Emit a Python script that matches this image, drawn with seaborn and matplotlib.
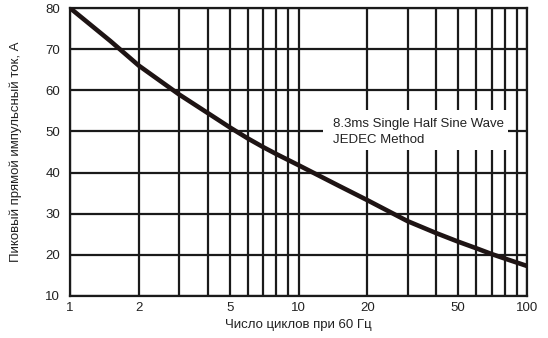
import matplotlib
matplotlib.use("Agg")
import matplotlib.pyplot as plt
import seaborn as sns
import pandas as pd
from matplotlib.patches import Rectangle
from matplotlib.ticker import FixedLocator, NullFormatter, FixedFormatter

cycles = [1, 1.5, 2, 3, 4, 5, 6, 7, 8, 10, 15, 20, 30, 40, 50, 60, 70, 80, 100]
current = [80, 72, 66, 59, 54.5, 51, 48.3, 46.2, 44.5, 41.8, 36.8, 33.3,
           28.2, 25.3, 23.2, 21.6, 20.2, 19.1, 17.3]
x_ticks = [1, 2, 5, 10, 20, 50, 100]
x_tick_labels = ["1", "2", "5", "10", "20", "50", "100"]
x_minor = [3, 4, 6, 7, 8, 9, 30, 40, 60, 70, 80, 90]
y_ticks = [10, 20, 30, 40, 50, 60, 70, 80]
annotation = "8.3ms Single Half Sine Wave\nJEDEC Method"
xlabel = "Число циклов при 60 Гц"
ylabel = "Пиковый прямой импульсный ток, А"

sns.set_style("white")
plt.rcParams['font.family'] = ['Liberation Sans', 'DejaVu Sans']

df = pd.DataFrame({"cycles": cycles, "current": current})

L, R, T, B = 70, 527, 8, 296
fig = plt.figure(figsize=(5.48, 3.38), dpi=100)
ax = fig.add_axes([L/548, 1 - B/338, (R-L)/548, (B-T)/338])

ax.set_xscale("log")
ax.set_xlim(1, 100)
ax.set_ylim(10, 80)

ax.xaxis.set_major_locator(FixedLocator(x_ticks))
ax.xaxis.set_major_formatter(FixedFormatter(x_tick_labels))
ax.xaxis.set_minor_locator(FixedLocator(x_minor))
ax.xaxis.set_minor_formatter(NullFormatter())
ax.yaxis.set_major_locator(FixedLocator(y_ticks))

ax.grid(True, which="both", axis="x", color="#1a1a1a", linewidth=1.6)
ax.grid(True, which="major", axis="y", color="#1a1a1a", linewidth=1.6)
ax.set_axisbelow(True)

sns.lineplot(data=df, x="cycles", y="current", ax=ax, color="#1e1414",
             linewidth=3.3, zorder=3)

for s in ax.spines.values():
    s.set_color("#1a1a1a")
    s.set_linewidth(1.6)

ax.tick_params(axis="both", which="both", length=0, labelsize=9.5, colors="#222222")
ax.tick_params(axis="x", pad=4)
ax.tick_params(axis="y", pad=7)

ax.set_xlabel(xlabel, fontsize=9.5, color="#222222", labelpad=4)
ax.set_ylabel(ylabel, fontsize=9.5, color="#222222", labelpad=17)

# white label box covering the grid
bx0, bx1, by0, by1 = 323, 508, 110, 150
ax.add_patch(Rectangle(((bx0-L)/(R-L), (B-by1)/(B-T)), (bx1-bx0)/(R-L), (by1-by0)/(B-T),
                       transform=ax.transAxes, facecolor="white", edgecolor="none",
                       zorder=2.5))
ax.text((333-L)/(R-L), (B-118)/(B-T), annotation, fontsize=9.5,
        color="#222222", va="top", ha="left", zorder=4, linespacing=1.4,
        transform=ax.transAxes)

fig.savefig("out.png", dpi=100)
